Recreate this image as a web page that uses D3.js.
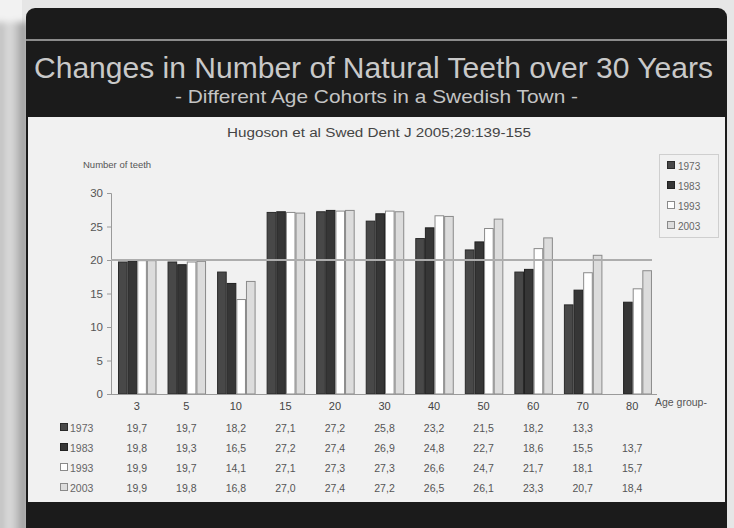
<!DOCTYPE html>
<html>
<head>
<meta charset="utf-8">
<script src="https://cdn.jsdelivr.net/npm/d3@7"></script>
<style>
  html, body { margin: 0; padding: 0; background: #e4e4e4; }
  svg { display: block; }
  text { font-family: "Liberation Sans", Arial, sans-serif; }
</style>
</head>
<body>
<svg id="chart" width="734" height="528"></svg>
<script>
// Age groups and mean number of natural teeth per examination year
const ageGroups = ["3", "5", "10", "15", "20", "30", "40", "50", "60", "70", "80"];
const years = ["1973", "1983", "1993", "2003"];
const teeth1973 = [19.7, 19.7, 18.2, 27.1, 27.2, 25.8, 23.2, 21.5, 18.2, 13.3, null];
const teeth1983 = [19.8, 19.3, 16.5, 27.2, 27.4, 26.9, 24.8, 22.7, 18.6, 15.5, 13.7];
const teeth1993 = [19.9, 19.7, 14.1, 27.1, 27.3, 27.3, 26.6, 24.7, 21.7, 18.1, 15.7];
const teeth2003 = [19.9, 19.8, 16.8, 27.0, 27.4, 27.2, 26.5, 26.1, 23.3, 20.7, 18.4];
const yTicks = [0, 5, 10, 15, 20, 25, 30];
const referenceLevel = 20;

const titleText = "Changes in Number of Natural Teeth over 30 Years";
const subtitleText = "- Different Age Cohorts in a Swedish Town -";
const sourceText = "Hugoson et al Swed Dent J 2005;29:139-155";

const seriesValues = [teeth1973, teeth1983, teeth1993, teeth2003];
const fills = ["#484848", "#363636", "#ffffff", "#dcdcdc"];
const strokes = ["#2a2a2a", "#222222", "#8a8a8a", "#8a8a8a"];

const svg = d3.select("#chart");
const defs = svg.append("defs");

// soft shading on the page left of the slide
const leftGrad = defs.append("linearGradient").attr("id", "leftShade")
  .attr("x1", 0).attr("x2", 1).attr("y1", 0).attr("y2", 0);
leftGrad.append("stop").attr("offset", "0%").attr("stop-color", "#b4b4b4");
leftGrad.append("stop").attr("offset", "45%").attr("stop-color", "#dedede");
leftGrad.append("stop").attr("offset", "100%").attr("stop-color", "#8c8c8c");
defs.append("filter").attr("id", "soft").attr("x", "-50%").attr("y", "-10%")
  .attr("width", "200%").attr("height", "120%")
  .append("feGaussianBlur").attr("stdDeviation", 3);

svg.append("rect").attr("width", 734).attr("height", 528).attr("fill", "#e6e6e6");
svg.append("rect").attr("x", 0).attr("y", 0).attr("width", 22).attr("height", 528)
  .attr("fill", "#f2f2f2");
svg.append("rect").attr("x", -4).attr("y", 22).attr("width", 32).attr("height", 520)
  .attr("fill", "url(#leftShade)").attr("filter", "url(#soft)");

// slide panel
svg.append("rect").attr("x", 26).attr("y", 8).attr("width", 701).attr("height", 560)
  .attr("rx", 9).attr("fill", "#1b1b1b");
svg.append("rect").attr("x", 26).attr("y", 39).attr("width", 701).attr("height", 2)
  .attr("fill", "#8c8c8c");

svg.append("text").attr("x", 373.5).attr("y", 78).attr("text-anchor", "middle")
  .attr("font-size", 30).attr("fill", "#c9c9c9")
  .attr("textLength", 679).attr("lengthAdjust", "spacingAndGlyphs").text(titleText);
svg.append("text").attr("x", 376.5).attr("y", 103).attr("text-anchor", "middle")
  .attr("font-size", 19).attr("fill", "#c4c4c4")
  .attr("textLength", 403).attr("lengthAdjust", "spacingAndGlyphs").text(subtitleText);

// light content area
svg.append("rect").attr("x", 28).attr("y", 117).attr("width", 697).attr("height", 385)
  .attr("fill", "#f1f1f1");
defs.append("clipPath").attr("id", "content").append("rect")
  .attr("x", 28).attr("y", 117).attr("width", 697).attr("height", 385);

const g = svg.append("g").attr("clip-path", "url(#content)");

g.append("text").attr("x", 379).attr("y", 137).attr("text-anchor", "middle")
  .attr("font-size", 12).attr("fill", "#444")
  .attr("textLength", 304).attr("lengthAdjust", "spacingAndGlyphs").text(sourceText);

// scales
const x = d3.scaleBand().domain(ageGroups).range([112, 657]).padding(0);
const xs = d3.scaleBand().domain(years).range([6, 44.5]).padding(0);
const y = d3.scaleLinear().domain([0, 30]).range([394, 193]);

// y axis
const yAxis = g.append("g").attr("transform", "translate(111,0)")
  .call(d3.axisLeft(y).tickValues(yTicks).tickSize(4).tickPadding(4));
yAxis.select(".domain").attr("stroke", "#9a9a9a");
yAxis.selectAll(".tick line").attr("stroke", "#9a9a9a");
yAxis.selectAll(".tick text").attr("font-size", 11.5).attr("fill", "#555")
  .attr("font-family", "Liberation Sans, Arial, sans-serif");

g.append("text").attr("x", 83).attr("y", 168).attr("font-size", 9.5).attr("fill", "#555")
  .text("Number of teeth");

// bars
years.forEach((yr, si) => {
  const vals = seriesValues[si];
  g.append("g").selectAll("rect")
    .data(ageGroups.map((a, i) => ({ a, v: vals[i] })).filter(d => d.v != null))
    .join("rect")
    .attr("x", d => x(d.a) + xs(yr) + 0.5)
    .attr("y", d => y(d.v))
    .attr("width", xs.bandwidth() - 1)
    .attr("height", d => y(0) - y(d.v))
    .attr("fill", fills[si])
    .attr("stroke", strokes[si])
    .attr("stroke-width", 1);
});

// x axis
const xAxis = g.append("g").attr("transform", "translate(0,394)")
  .call(d3.axisBottom(x).tickSize(0).tickPadding(8));
xAxis.select(".domain").attr("stroke", "#9a9a9a").attr("d", "M111,0.5H657");
xAxis.selectAll(".tick text").attr("font-size", 11).attr("fill", "#444")
  .attr("font-family", "Liberation Sans, Arial, sans-serif");

g.append("text").attr("x", 655).attr("y", 406).attr("font-size", 10.5).attr("fill", "#555")
  .text("Age group-");

// reference line
g.append("line")
  .attr("x1", 111).attr("x2", 652)
  .attr("y1", y(referenceLevel)).attr("y2", y(referenceLevel))
  .attr("stroke", "#adadad").attr("stroke-width", 2);

// legend
const legend = g.append("g");
legend.append("rect").attr("x", 659.5).attr("y", 154.5).attr("width", 59).attr("height", 83)
  .attr("fill", "#f1f1f1").attr("stroke", "#cfcfcf");
years.forEach((yr, i) => {
  const cy = 166 + i * 20;
  legend.append("rect").attr("x", 667.5).attr("y", cy - 4.5).attr("width", 7).attr("height", 7)
    .attr("fill", fills[i]).attr("stroke", strokes[i]);
  legend.append("text").attr("x", 678).attr("y", cy + 3.5).attr("font-size", 10)
    .attr("fill", "#666").text(yr);
});

// data table
const fmt = v => v == null ? "" : d3.format(".1f")(v).replace(".", ",");
years.forEach((yr, i) => {
  const cy = 428 + i * 20;
  g.append("rect").attr("x", 60.5).attr("y", cy - 4.5).attr("width", 7).attr("height", 7)
    .attr("fill", fills[i]).attr("stroke", strokes[i]);
  g.append("text").attr("x", 70).attr("y", cy + 4).attr("font-size", 10.5)
    .attr("fill", "#666").text(yr);
  g.append("g").selectAll("text")
    .data(ageGroups.map((a, j) => ({ a, v: seriesValues[i][j] })))
    .join("text")
    .attr("x", d => x(d.a) + x.bandwidth() / 2)
    .attr("y", cy + 4)
    .attr("text-anchor", "middle")
    .attr("font-size", 10.5)
    .attr("fill", "#555")
    .text(d => fmt(d.v));
});
</script>
</body>
</html>
